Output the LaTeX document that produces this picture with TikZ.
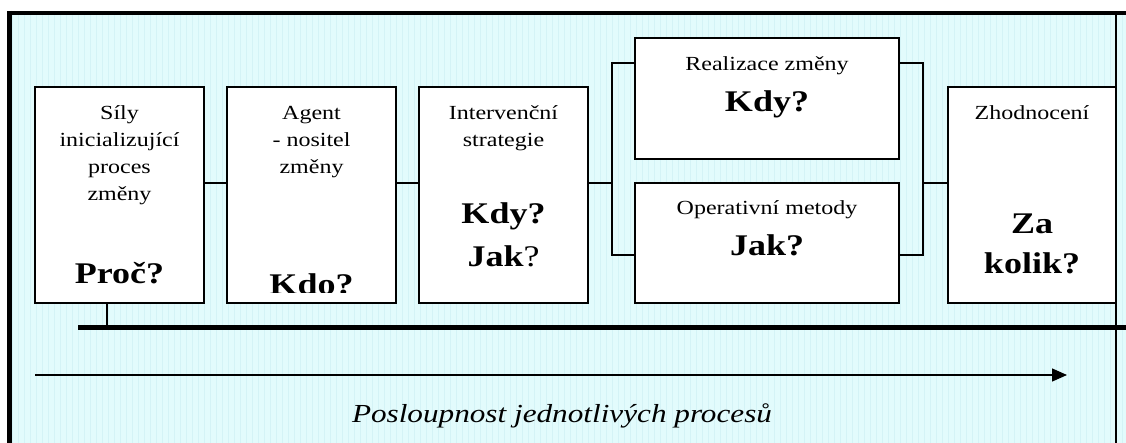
\documentclass[tikz,border=0pt]{standalone}
\usepackage{fontspec}
\setmainfont{Liberation Serif}[FakeStretch=1.2]
\usetikzlibrary{arrows.meta}
\definecolor{bgcyan}{RGB}{226,251,252}
\definecolor{gridcyan}{RGB}{212,243,246}
\begin{document}
\begin{tikzpicture}[x=1pt,y=-1pt,
  box/.style={draw=black, line width=1.6pt, fill=white, inner sep=0pt, outer sep=0pt},
  conn/.style={draw=black, line width=1.6pt},
  txt/.style={font=\fontsize{20}{24}\selectfont, anchor=base, inner sep=0pt},
  big/.style={font=\fontsize{30}{36}\selectfont\bfseries, anchor=base, inner sep=0pt},
  capt/.style={font=\fontsize{26}{30}\selectfont\itshape, anchor=base, inner sep=0pt}]
\useasboundingbox (0,0) rectangle (1126,443);
% background
\fill[bgcyan] (12,15) rectangle (1126,443);
\draw[gridcyan, line width=0.3pt, step=6] (12,15) grid (1126,443);
% frame
\draw[line width=4pt] (7,13) -- (1126,13);
\draw[line width=5pt] (9.5,11) -- (9.5,443);
\draw[line width=1.4pt] (1116,15) -- (1116,443);
% helper coordinates
\coordinate (mid) at (0,183);
\coordinate (lt) at (612,63);
\coordinate (lm) at (612,183);
\coordinate (lb) at (612,255);
\coordinate (rt) at (923,63);
\coordinate (rm) at (923,183);
\coordinate (rb) at (923,255);
\coordinate (bar0) at (78,327);
\coordinate (bar1) at (1126,327);
\coordinate (drop) at (107,327);
\coordinate (a0) at (35,375);
\coordinate (a1) at (1067,375);
% boxes
\node[box, minimum width=169pt, minimum height=216pt] (b1) at (119.5,195) {};
\node[box, minimum width=169pt, minimum height=216pt] (b2) at (311.5,195) {};
\node[box, minimum width=169pt, minimum height=216pt] (b3) at (503.5,195) {};
\node[box, minimum width=264pt, minimum height=121pt] (b4) at (767,98.5) {};
\node[box, minimum width=264pt, minimum height=120pt] (b5) at (767,243) {};
\node[box, minimum width=168pt, minimum height=216pt] (b6) at (1032,195) {};
% connectors
\draw[conn] (b1.east |- mid) -- (b2.west |- mid);
\draw[conn] (b2.east |- mid) -- (b3.west |- mid);
\draw[conn] (b3.east |- mid) -- (lm);
\draw[conn] (b4.west |- lt) -- (lt) -- (lb) -- (b5.west |- lb);
\draw[conn] (b4.east |- rt) -- (rt) -- (rb) -- (b5.east |- rb);
\draw[conn] (rm) -- (b6.west |- rm);
\draw[line width=1.2pt] (b1.south -| drop) -- (drop);
\draw[line width=5pt] (bar0) -- (bar1);
\draw[line width=1.4pt, -{Triangle[length=15pt,width=13pt]}] (a0) -- (a1);
% texts box 1
\node[txt] (t1a) at (119.5,120) {Síly};
\node[txt] (t1b) at (119.5,147) {inicializující};
\node[txt] (t1c) at (119.5,174) {proces};
\node[txt] (t1d) at (119.5,201) {změny};
\node[big] (t1e) at (119.5,284) {Proč?};
% box 2
\node[txt] (t2a) at (311.5,120) {Agent};
\node[txt] (t2b) at (311.5,147) {- nositel};
\node[txt] (t2c) at (311.5,174) {změny};
\begin{scope}
\clip (228,88) rectangle (395,293);
\node[big] (t2d) at (311.5,295) {Kdo?};
\end{scope}
% box 3
\node[txt] (t3a) at (503.5,120) {Intervenční};
\node[txt] (t3b) at (503.5,147) {strategie};
\node[big] (t3c) at (503.5,224) {Kdy?};
\node[big] (t3d) at (503.5,267) {Jak{\mdseries ?}};
% box 4
\node[txt] (t4a) at (767,71) {Realizace změny};
\node[big] (t4b) at (767,112) {Kdy?};
% box 5
\node[txt] (t5a) at (767,215) {Operativní metody};
\node[big] (t5b) at (767,256) {Jak?};
% box 6
\node[txt] (t6a) at (1032,120) {Zhodnocení};
\node[big] (t6b) at (1032,234) {Za};
\node[big] (t6c) at (1032,274) {kolik?};
% caption
\node[capt] (cap) at (562,422) {Posloupnost jednotlivých procesů};
\end{tikzpicture}
\end{document}
